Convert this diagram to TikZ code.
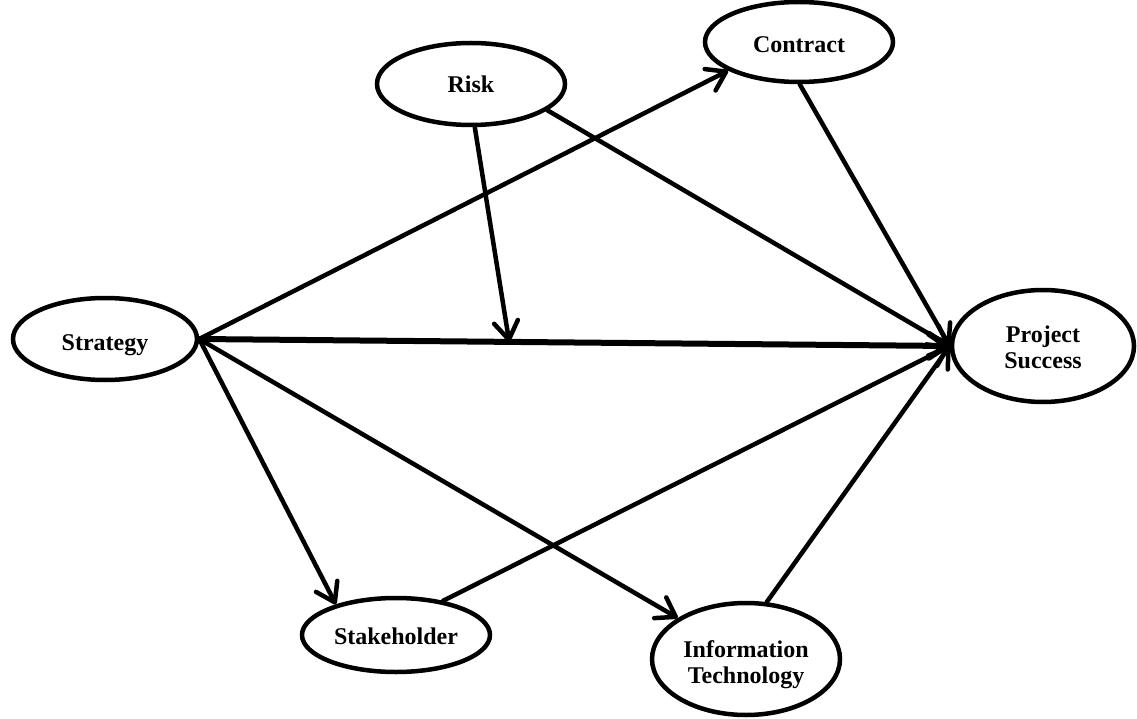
\documentclass[tikz,border=0pt]{standalone}
\usepackage{fontspec}
\setmainfont{Liberation Serif}
\usetikzlibrary{arrows.meta,shapes.geometric,calc}

\begin{document}
\begin{tikzpicture}[x=1pt,y=-1pt,
  concept/.style={ellipse,draw,line width=4.5pt,inner sep=0pt,align=center,
    font=\fontsize{24}{26}\selectfont\bfseries},
  % places the (last) baseline inside the ellipse
  textdrop/.style={text height=#1,text depth=0pt},
  link/.style={line width=4.5pt,line cap=round,
    -{Straight Barb[length=18pt,width=24pt,round]}},
  mainlink/.style={link,line width=6pt}]
  \useasboundingbox (0,0) rectangle (1137,719);

  % constructs
  \node[concept,textdrop=22pt,minimum width=184pt,minimum height=82pt] (strategy) at (105,339) {Strategy};
  \node[concept,textdrop=18pt,minimum width=188pt,minimum height=82pt] (risk) at (471,84) {Risk};
  \node[concept,textdrop=22pt,minimum width=188pt,minimum height=80pt] (contract) at (799,42) {Contract};
  \node[concept,textdrop=44pt,minimum width=182pt,minimum height=112pt] (ps) at (1043,346) {Project\\Success};
  \node[concept,textdrop=18pt,minimum width=188pt,minimum height=74pt] (stake) at (396,635) {Stakeholder};
  \node[concept,textdrop=48pt,minimum width=188pt,minimum height=112pt] (it) at (746,659) {Information\\Technology};

  % point where the moderating path meets the main path
  \coordinate (mod) at ($(strategy.east)!0.413!(ps.west)$);

  % paths
  \draw[mainlink] (strategy.east) -- (ps.west);
  \draw[link] (strategy.east) -- (contract.202);
  \draw[link] (strategy.east) -- (stake.153);
  \draw[link] (strategy.east) -- (it.149);
  \draw[link] (risk.275) -- (mod);
  \draw[link] (risk.341) -- (ps.west);
  \draw[link] (contract.271) -- (ps.west);
  \draw[link] (stake.36) -- (ps.west);
  \draw[link] (it.70) -- (ps.west);
\end{tikzpicture}
\end{document}
